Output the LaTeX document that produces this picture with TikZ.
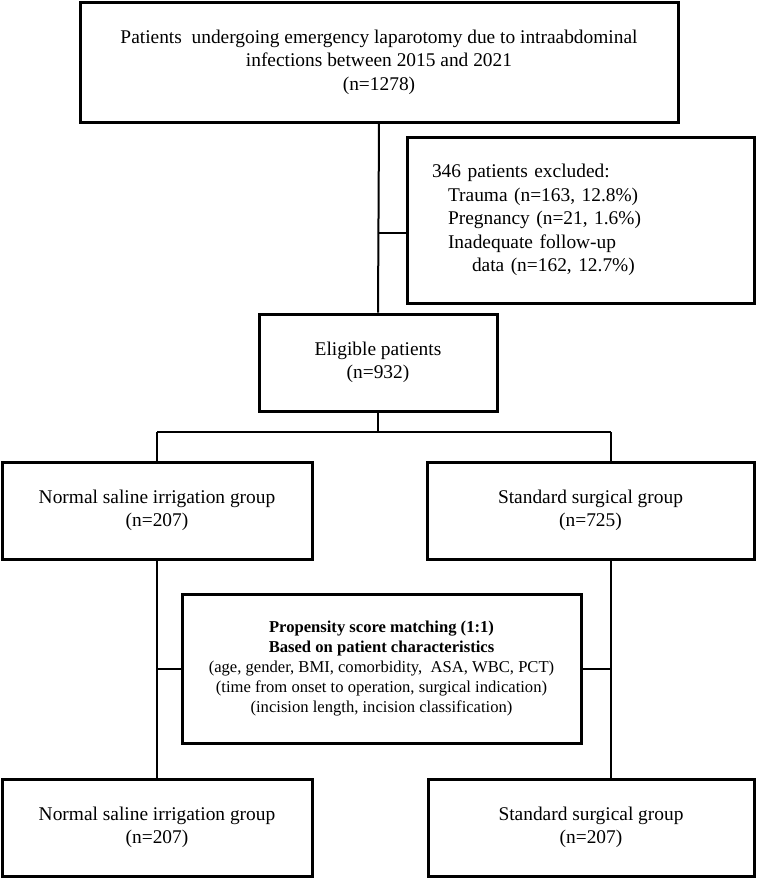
\documentclass[tikz,border=0pt]{standalone}
\usepackage{fontspec}
\setmainfont{Liberation Serif}
\usepackage{tikz}

\tikzset{
    stage/.style={draw, line width=1.5pt, rectangle, align=center, inner sep=0pt,
        font=\fontsize{9.7}{11.7}\selectfont},
    link/.style={line width=1pt}
}

\begin{document}
\begin{tikzpicture}[x=0.5pt, y=-0.5pt]
    \useasboundingbox (0, 0) rectangle (756, 879);

    \node [stage, minimum width=598*0.5pt, minimum height=120*0.5pt] (total) at (379, 62)
        {Patients\ \ undergoing emergency laparotomy due to intraabdominal\\
         infections between 2015 and 2021\\ (n=1278)};
    \node [stage, minimum width=347*0.5pt, minimum height=166*0.5pt,
        text width=297*0.5pt, align=left] (excl) at (580.5, 220)
        {346 patients excluded:\\
         \hspace*{8pt}Trauma (n=163, 12.8\%)\\
         \hspace*{8pt}Pregnancy (n=21, 1.6\%)\\
         \hspace*{8pt}Inadequate follow-up\\
         \hspace*{20pt}data (n=162, 12.7\%)};
    \node [stage, minimum width=238*0.5pt, minimum height=97*0.5pt] (elig) at (378, 362.5)
        {Eligible patients\\ (n=932)};

    \node [stage, minimum width=310*0.5pt, minimum height=97*0.5pt] (nsa) at (157, 510.5)
        {Normal saline irrigation group\\ (n=207)};
    \node [stage, minimum width=327*0.5pt, minimum height=97*0.5pt] (ssa) at (590.5, 510.5)
        {Standard surgical group\\ (n=725)};

    \node [stage, minimum width=399*0.5pt, minimum height=149*0.5pt,
        font=\fontsize{8.3}{10}\selectfont] (psm) at (381.5, 668.5)
        {\textbf{Propensity score matching (1:1)}\\
         \textbf{Based on patient characteristics}\\
         (age, gender, BMI, comorbidity,\ \ ASA, WBC, PCT)\\
         (time from onset to operation, surgical indication)\\
         (incision length, incision classification)};

    \node [stage, minimum width=310*0.5pt, minimum height=97*0.5pt] (nsb) at (157, 827.5)
        {Normal saline irrigation group\\ (n=207)};
    \node [stage, minimum width=326*0.5pt, minimum height=97*0.5pt] (ssb) at (591, 827.5)
        {Standard surgical group\\ (n=207)};

    % connectors
    \coordinate (exit) at (378, 233);
    \coordinate (bl) at (157, 432);
    \coordinate (br) at (611, 432);

    \draw[link] (total.south) -- (elig.north);
    \draw[link] (exit) -- (exit -| excl.west);
    \draw[link] (elig.south) -- (elig.south |- bl);
    \draw[link] (bl) -- (br);
    \draw[link] (bl) -- (bl |- nsa.north);
    \draw[link] (br) -- (br |- ssa.north);

    \draw[link] (nsa.south) -- (nsb.north);
    \draw[link] (br |- ssa.south) -- (br |- ssb.north);
    \draw[link] (nsa.south |- psm.west) -- (psm.west);
    \draw[link] (psm.east) -- (br |- psm.east);

\end{tikzpicture}
\end{document}
